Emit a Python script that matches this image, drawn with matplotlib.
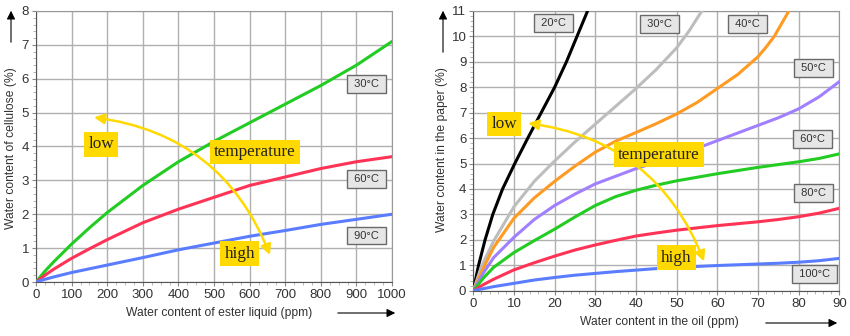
import matplotlib
matplotlib.use("Agg")
import matplotlib.pyplot as plt
from matplotlib.patches import FancyArrowPatch
from matplotlib.ticker import MultipleLocator

# --- left panel: cellulose in ester liquid ---
ester_ppm = [0, 25, 50, 100, 150, 200, 300, 400, 500, 600, 700, 800, 900, 1000]
cell_30 = [0, 0.32, 0.6, 1.12, 1.6, 2.05, 2.85, 3.55, 4.15, 4.7, 5.25, 5.8, 6.4, 7.1]
cell_60 = [0, 0.2, 0.38, 0.7, 0.98, 1.25, 1.75, 2.15, 2.5, 2.85, 3.1, 3.35, 3.55, 3.7]
cell_90 = [0, 0.08, 0.15, 0.28, 0.39, 0.5, 0.72, 0.95, 1.15, 1.35, 1.52, 1.7, 1.85, 2.0]
left_series = [("30°C", cell_30, "#22cc22", (928, 5.85)),
               ("60°C", cell_60, "#ff3355", (928, 3.05)),
               ("90°C", cell_90, "#5a7dff", (928, 1.37))]

# --- right panel: paper in mineral oil ---
oil_20_x = [0, 1.3, 2.9, 4.8, 7.2, 10.2, 13.4, 16.7, 20, 22.9, 25.5, 28.1]
oil_20_y = [0, 1, 2, 3, 4, 5, 6, 7, 8, 9, 10, 11]
oil_30_x = [0, 2, 5, 10, 15, 20, 25, 30, 35, 40, 45, 50, 53, 56.2]
oil_30_y = [0, 0.95, 1.95, 3.3, 4.3, 5.1, 5.85, 6.55, 7.25, 7.95, 8.7, 9.55, 10.2, 11]
oil_40_x = [0, 2.5, 5, 10, 15, 20, 25, 30, 35, 40, 45, 50, 55, 60, 65, 70, 72, 74, 77.6]
oil_40_y = [0, 0.9, 1.7, 2.85, 3.65, 4.3, 4.9, 5.45, 5.88, 6.22, 6.57, 6.95, 7.4,
            7.95, 8.5, 9.2, 9.58, 10.0, 11]
ppm = [0, 2.5, 5, 10, 15, 20, 25, 30, 35, 40, 45, 50, 60, 70, 75, 80, 85, 90]
oil_50 = [0, 0.7, 1.3, 2.1, 2.8, 3.35, 3.8, 4.2, 4.5, 4.8, 5.05, 5.3, 5.9, 6.5, 6.8,
          7.15, 7.62, 8.22]
oil_60 = [0, 0.5, 0.92, 1.5, 1.97, 2.42, 2.9, 3.35, 3.7, 3.95, 4.15, 4.32, 4.6, 4.85,
          4.96, 5.07, 5.2, 5.38]
oil_80 = [0, 0.24, 0.45, 0.82, 1.1, 1.36, 1.6, 1.8, 1.98, 2.15, 2.27, 2.38, 2.56, 2.71,
          2.8, 2.91, 3.05, 3.24]
oil_100 = [0, 0.08, 0.16, 0.29, 0.42, 0.52, 0.61, 0.68, 0.75, 0.81, 0.87, 0.92, 0.99,
           1.05, 1.08, 1.12, 1.18, 1.27]
right_series = [("20°C", oil_20_x, oil_20_y, "black", (19.8, 10.52)),
                ("30°C", oil_30_x, oil_30_y, "#bdbdbd", (45.8, 10.5)),
                ("40°C", oil_40_x, oil_40_y, "#ff9a22", (67.4, 10.5)),
                ("50°C", ppm, oil_50, "#a080ff", (83.7, 8.75)),
                ("60°C", ppm, oil_60, "#22cc22", (83.5, 5.97)),
                ("80°C", ppm, oil_80, "#ff3355", (83.7, 3.83)),
                ("100°C", ppm, oil_100, "#5a7dff", (84.0, 0.65))]

TXT = "#333333"
YELLOW = "#ffd900"
plt.rcParams["font.family"] = ["Liberation Sans", "DejaVu Sans"]

fig = plt.figure(figsize=(8.5, 3.36), dpi=100)
ax1 = fig.add_axes([0.0424, 0.1607, 0.4188, 0.8066])
ax2 = fig.add_axes([0.5568, 0.1348, 0.4306, 0.8325])


def style_axes(ax, xmax, ymax, xstep, xminor, yminor):
    ax.set_xlim(0, xmax)
    ax.set_ylim(0, ymax)
    ax.xaxis.set_major_locator(MultipleLocator(xstep))
    ax.yaxis.set_major_locator(MultipleLocator(1))
    ax.xaxis.set_minor_locator(MultipleLocator(xminor))
    ax.yaxis.set_minor_locator(MultipleLocator(yminor))
    ax.grid(True, which="major", color="#b0b0b0", linewidth=1.0)
    ax.set_axisbelow(True)
    ax.tick_params(which="major", length=3, color="#888888", labelsize=9.5,
                   labelcolor=TXT, pad=2)
    ax.tick_params(which="minor", length=2, color="#aaaaaa")
    for side in ("top", "right"):
        ax.spines[side].set_color("#999999")
    for side in ("left", "bottom"):
        ax.spines[side].set_color("#555555")


def temp_box(ax, text, xy):
    ax.text(xy[0], xy[1], f" {text} ", ha="center", va="center", fontsize=8,
            color=TXT, zorder=5,
            bbox=dict(boxstyle="square,pad=0.35", facecolor="#e6e6e6",
                      edgecolor="#6a6a6a", linewidth=1.0))


def yellow_label(ax, text, xy):
    ax.text(xy[0], xy[1], text, ha="center", va="center", fontsize=12.3,
            family=["Liberation Serif", "DejaVu Serif"], color="#222222",
            zorder=6,
            bbox=dict(boxstyle="square,pad=0.25", facecolor=YELLOW,
                      edgecolor="none"))


def temp_arrow(ax, start, end, rad):
    arr = FancyArrowPatch(start, end, connectionstyle=f"arc3,rad={rad}",
                          arrowstyle="<|-|>,head_length=6,head_width=3",
                          color=YELLOW, linewidth=1.8, zorder=4)
    ax.add_patch(arr)


# left panel
style_axes(ax1, 1000, 8, 100, 25, 0.2)
for label, ys, color, box_xy in left_series:
    ax1.plot(ester_ppm, ys, color=color, linewidth=2.2, zorder=3)
    temp_box(ax1, label, box_xy)
temp_arrow(ax1, (155, 4.87), (660, 0.72), -0.3)
yellow_label(ax1, "low", (183, 4.06))
yellow_label(ax1, "temperature", (615, 3.84))
yellow_label(ax1, "high", (572, 0.84))

# right panel
style_axes(ax2, 90, 11, 10, 2, 0.2)
for label, xs, ys, color, box_xy in right_series:
    ax2.plot(xs, ys, color=color, linewidth=2.2, zorder=3)
    temp_box(ax2, label, box_xy)
temp_arrow(ax2, (12.8, 6.6), (57, 1.05), -0.3)
yellow_label(ax2, "low", (7.6, 6.55))
yellow_label(ax2, "temperature", (45.7, 5.35))
yellow_label(ax2, "high", (49.9, 1.3))

# axis titles with direction arrows
fig.text(11 / 850, 1 - 148 / 336, "Water content of cellulose (%)", rotation=90,
         ha="center", va="center", fontsize=8.7, color=TXT)
fig.text(219 / 850, 1 - 313 / 336, "Water content of ester liquid (ppm)",
         ha="center", va="center", fontsize=8.7, color=TXT)
fig.text(442 / 850, 1 - 150 / 336, "Water content in the paper (%)", rotation=90,
         ha="center", va="center", fontsize=8.7, color=TXT)
fig.text(659 / 850, 1 - 322 / 336, "Water content in the oil (ppm)",
         ha="center", va="center", fontsize=8.7, color=TXT)

arrow_kw = dict(arrowstyle="-|>,head_length=5,head_width=2.5", color="black",
                linewidth=0.8, transform=fig.transFigure)
for (x0, y0), (x1, y1) in [((11, 45), (11, 8)), ((335, 313), (398, 313)),
                           ((443, 55), (443, 8)), ((763, 323), (840, 323))]:
    fig.patches.append(FancyArrowPatch((x0 / 850, 1 - y0 / 336),
                                       (x1 / 850, 1 - y1 / 336), **arrow_kw))

fig.savefig("out.png", dpi=100)
